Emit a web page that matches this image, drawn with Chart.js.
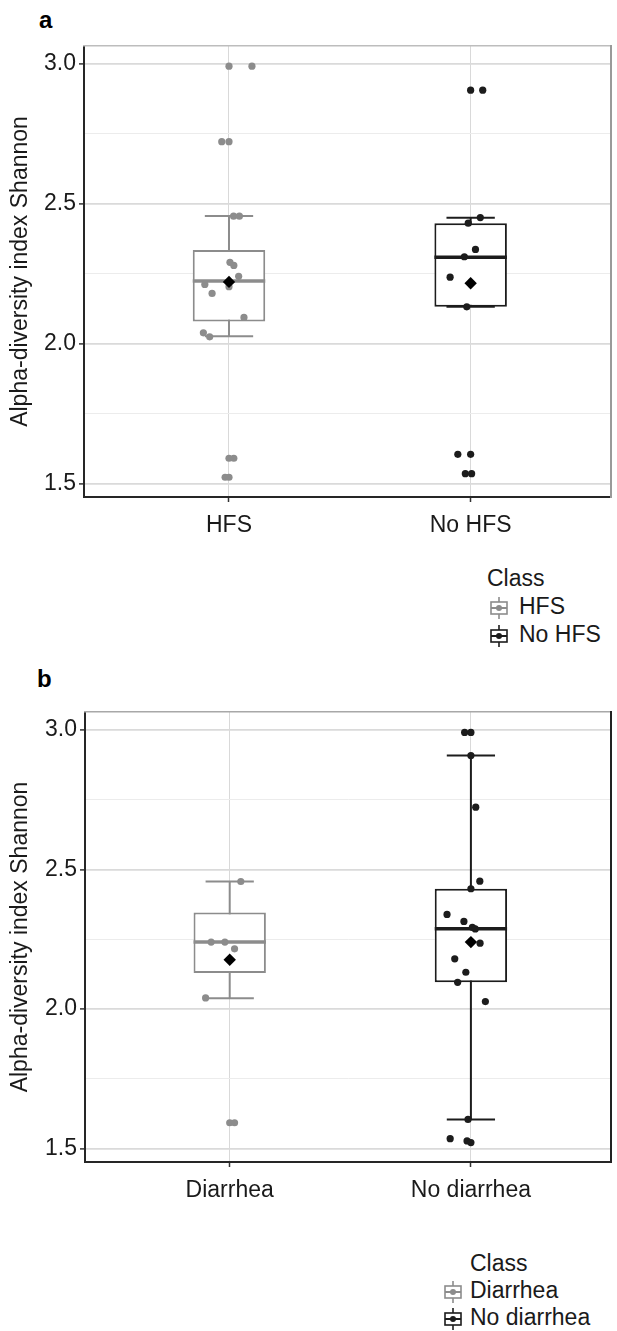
<!DOCTYPE html>
<html lang="en">
<head>
<meta charset="utf-8">
<title>Alpha-diversity index Shannon</title>
<script src="https://cdn.jsdelivr.net/npm/chart.js@4.4.1/dist/chart.umd.min.js"></script>
<style>
  html, body { margin: 0; padding: 0; background: #fff; }
  body {
    position: relative; width: 617px; height: 1331px; overflow: hidden;
    font-family: "Liberation Sans", Arial, sans-serif; color: #1a1a1a;
  }
  .panel-tag { position: absolute; font-size: 24px; line-height: 24px; font-weight: bold; color: #000; }
  .chart { position: absolute; left: 0; }
  .legend { position: absolute; font-size: 23px; line-height: 23px; }
  .legend > * { position: absolute; white-space: nowrap; }
  .legend svg { display: block; }
</style>
</head>
<body>
  <div class="panel-tag" style="left:39px; top:8px">a</div>
  <canvas id="chartA" class="chart" width="617" height="560" style="top:0"></canvas>
  <div id="legendA" class="legend" style="left:487px; top:567px"></div>

  <div class="panel-tag" style="left:37px; top:667px">b</div>
  <canvas id="chartB" class="chart" width="617" height="560" style="top:660px"></canvas>
  <div id="legendB" class="legend" style="left:470px; top:1252px"></div>

<script>
// Shannon axis (same samples in both panels)
const Y_MIN = 1.4525;
const Y_MAX = 3.064;
const Y_TICKS = [1.5, 1.75, 2.0, 2.25, 2.5, 2.75, 3.0];
const X_MIN = 0.4;
const X_MAX = 2.58;
const Y_TITLE = "Alpha-diversity index Shannon";

// panel a: hand-foot syndrome
const HFS_CLASSES = ["HFS", "No HFS"];
const HFS_Q1 = [2.080, 2.132];
const HFS_MEDIAN = [2.224, 2.309];
const HFS_Q3 = [2.335, 2.431];
const HFS_WHISKER_LO = [2.027, 2.132];
const HFS_WHISKER_HI = [2.457, 2.450];
const HFS_MEAN = [2.221, 2.216];
const HFS_POINTS = [2.992, 2.992, 2.722, 2.722, 2.456, 2.456, 2.291, 2.280, 2.241, 2.212,
  2.204, 2.180, 2.094, 2.039, 2.025, 1.591, 1.591, 1.523, 1.523];
const HFS_JITTER = [0, 0.095, -0.03, 0, 0.019, 0.043, 0.004, 0.02, 0.04, -0.10,
  0, -0.07, 0.062, -0.106, -0.08, 0, 0.02, -0.016, 0];
const NO_HFS_POINTS = [2.906, 2.906, 2.451, 2.431, 2.337, 2.311, 2.238, 2.132, 1.605, 1.605, 1.536, 1.536];
const NO_HFS_JITTER = [0, 0.05, 0.04, -0.01, 0.02, -0.026, -0.085, -0.016, -0.053, 0, -0.022, 0.004];

// panel b: diarrhea
const DIA_CLASSES = ["Diarrhea", "No diarrhea"];
const DIA_Q1 = [2.129, 2.096];
const DIA_MEDIAN = [2.240, 2.288];
const DIA_Q3 = [2.346, 2.431];
const DIA_WHISKER_LO = [2.039, 1.605];
const DIA_WHISKER_HI = [2.457, 2.908];
const DIA_MEAN = [2.177, 2.240];
const DIA_POINTS = [2.457, 2.240, 2.240, 2.216, 2.040, 1.593, 1.593];
const DIA_JITTER = [0.046, -0.077, -0.02, 0.02, -0.10, 0, 0.02];
const NO_DIA_POINTS = [2.991, 2.991, 2.908, 2.723, 2.458, 2.431, 2.339, 2.314, 2.293, 2.287,
  2.236, 2.180, 2.132, 2.096, 2.027, 1.605, 1.536, 1.528, 1.522];
const NO_DIA_JITTER = [-0.026, 0, 0, 0.02, 0.037, 0, -0.099, -0.029, 0.006, 0.018,
  0.038, -0.067, -0.021, -0.055, 0.06, -0.012, -0.086, -0.016, 0];

const CLASS_COLORS = ["#8c8c8c", "#1c1c1c"];
const TEXT = "#1a1a1a";
const FONT = '"Liberation Sans", Arial, sans-serif';
const BOX_WIDTH = 0.30; // category units
const CAP_HALF = 0.10;

Chart.defaults.font.family = FONT;
Chart.defaults.color = TEXT;

const isMajor = (v) => Math.abs(v * 2 - Math.round(v * 2)) < 1e-6;

function segment(x1, y1, x2, y2, color, width, order) {
  return {
    type: "line",
    data: [{ x: x1, y: y1 }, { x: x2, y: y2 }],
    borderColor: color,
    borderWidth: width,
    borderCapStyle: "butt",
    pointRadius: 0,
    order,
  };
}

function boxDatasets(p) {
  const ds = [];
  p.classes.forEach((_, i) => {
    const c = i + 1;
    const col = CLASS_COLORS[i];
    // whisker + caps sit under the box
    ds.push(segment(c, p.lo[i], c, p.hi[i], col, 2, 5));
    ds.push(segment(c - CAP_HALF, p.hi[i], c + CAP_HALF, p.hi[i], col, 2, 5));
    ds.push(segment(c - CAP_HALF, p.lo[i], c + CAP_HALF, p.lo[i], col, 2, 5));
    ds.push(segment(c - BOX_WIDTH / 2, p.median[i], c + BOX_WIDTH / 2, p.median[i], col, 3.5, 3));
    ds.push({
      type: "scatter",
      data: p.points[i].map((y, k) => ({ x: c + p.jitter[i][k], y })),
      backgroundColor: col,
      borderColor: col,
      borderWidth: 0,
      pointRadius: 3.6,
      order: 2,
    });
  });
  ds.push({
    type: "bar",
    data: p.classes.map((_, i) => ({ x: i + 1, y: [p.q1[i], p.q3[i]] })),
    backgroundColor: "#ffffff",
    borderColor: CLASS_COLORS,
    borderWidth: 2,
    borderSkipped: false,
    barPercentage: BOX_WIDTH,
    categoryPercentage: 1,
    order: 4,
  });
  ds.push({
    type: "scatter",
    data: p.mean.map((y, i) => ({ x: i + 1, y })),
    pointStyle: "rectRot",
    pointRadius: 6.2,
    backgroundColor: "#000",
    borderWidth: 0,
    order: 1,
  });
  return ds;
}

function makeChart(canvas, p) {
  return new Chart(canvas.getContext("2d"), {
    type: "scatter",
    data: { datasets: boxDatasets(p) },
    options: {
      responsive: false,
      animation: false,
      events: [],
      layout: { padding: p.padding },
      plugins: { legend: { display: false }, tooltip: { enabled: false } },
      scales: {
        x: {
          type: "linear", axis: "x", position: "bottom",
          min: X_MIN, max: X_MAX,
          offset: false,
          afterBuildTicks: (s) => { s.ticks = p.classes.map((_, i) => ({ value: i + 1 })); },
          afterFit: (s) => { s.height = 50; },
          ticks: {
            callback: (v, i) => p.classes[i],
            font: { size: 23 }, color: TEXT, padding: 10,
            maxRotation: 0, autoSkip: false,
          },
          grid: {
            offset: false, color: "#d9d9d9", lineWidth: 1,
            tickColor: "#333", tickLength: 5, tickWidth: 1.5,
          },
          border: { color: "#262626", width: 2 },
        },
        y: {
          type: "linear", axis: "y", position: "left",
          min: Y_MIN, max: Y_MAX,
          afterBuildTicks: (s) => { s.ticks = Y_TICKS.map((v) => ({ value: v })); },
          afterFit: (s) => { s.width = p.axisWidth; },
          ticks: {
            callback: (v) => (isMajor(v) ? v.toFixed(1) : ""),
            font: { size: 23 }, color: TEXT, padding: 3, autoSkip: false,
          },
          grid: {
            color: (ctx) => (isMajor(ctx.tick.value) ? "#dadada" : "#ececec"),
            lineWidth: (ctx) => (isMajor(ctx.tick.value) ? 1.8 : 1),
            tickColor: (ctx) => (isMajor(ctx.tick.value) ? "#333" : "transparent"),
            tickLength: 5,
            tickWidth: 1.5,
          },
          border: { color: "#262626", width: 2 },
          title: {
            display: true, text: Y_TITLE, color: TEXT,
            font: { size: 23 }, padding: { top: 7, bottom: 0 },
          },
        },
        xTop: {
          type: "linear", axis: "x", position: "top", display: true,
          min: X_MIN, max: X_MAX,
          ticks: { display: false },
          grid: { drawOnChartArea: false, drawTicks: false },
          border: { color: p.topBorder, width: 1.5 },
          afterFit: (s) => { s.height = 0; },
        },
        yRight: {
          type: "linear", axis: "y", position: "right", display: true,
          min: Y_MIN, max: Y_MAX,
          ticks: { display: false },
          grid: { drawOnChartArea: false, drawTicks: false },
          border: { color: p.rightBorder, width: 2 },
          afterFit: (s) => { s.width = 0; },
        },
      },
    },
  });
}

/** Small boxplot glyph + label rows, like the ggplot guide. */
function buildLegend(root, classes, spec) {
  const title = document.createElement("div");
  title.textContent = "Class";
  title.style.left = "0px";
  title.style.top = "0px";
  root.appendChild(title);

  classes.forEach((label, i) => {
    const col = CLASS_COLORS[i];
    const top = spec.pitch * (i + 1);
    const key = document.createElementNS("http://www.w3.org/2000/svg", "svg");
    key.setAttribute("width", "18");
    key.setAttribute("height", "22");
    key.innerHTML =
      `<line x1="9" y1="0" x2="9" y2="22" stroke="${col}" stroke-width="1.6"/>` +
      `<rect x="1" y="5" width="16" height="12" fill="#fff" stroke="${col}" stroke-width="1.6"/>` +
      `<line x1="1" y1="11" x2="17" y2="11" stroke="${col}" stroke-width="2"/>` +
      `<circle cx="9" cy="11" r="3" fill="${col}"/>`;
    key.style.position = "absolute";
    key.style.left = spec.keyLeft + "px";
    key.style.top = (top + 2) + "px";
    root.appendChild(key);

    const text = document.createElement("div");
    text.textContent = label;
    text.style.left = spec.labelLeft + "px";
    text.style.top = top + "px";
    root.appendChild(text);
  });
}

makeChart(document.getElementById("chartA"), {
  classes: HFS_CLASSES,
  q1: HFS_Q1, median: HFS_MEDIAN, q3: HFS_Q3,
  lo: HFS_WHISKER_LO, hi: HFS_WHISKER_HI, mean: HFS_MEAN,
  points: [HFS_POINTS, NO_HFS_POINTS],
  jitter: [HFS_JITTER, NO_HFS_JITTER],
  padding: { top: 46, right: 4, bottom: 13, left: 0 },
  axisWidth: 84,
  topBorder: "#bdbdbd",
  rightBorder: "#9a9a9a",
});

makeChart(document.getElementById("chartB"), {
  classes: DIA_CLASSES,
  q1: DIA_Q1, median: DIA_MEDIAN, q3: DIA_Q3,
  lo: DIA_WHISKER_LO, hi: DIA_WHISKER_HI, mean: DIA_MEAN,
  points: [DIA_POINTS, NO_DIA_POINTS],
  jitter: [DIA_JITTER, NO_DIA_JITTER],
  padding: { top: 52, right: 3, bottom: 8, left: 0 },
  axisWidth: 85,
  topBorder: "#a8a8a8",
  rightBorder: "#222222",
});

buildLegend(document.getElementById("legendA"), HFS_CLASSES, { pitch: 28, keyLeft: 3, labelLeft: 32 });
buildLegend(document.getElementById("legendB"), DIA_CLASSES, { pitch: 27, keyLeft: -26, labelLeft: 0 });
</script>
</body>
</html>
